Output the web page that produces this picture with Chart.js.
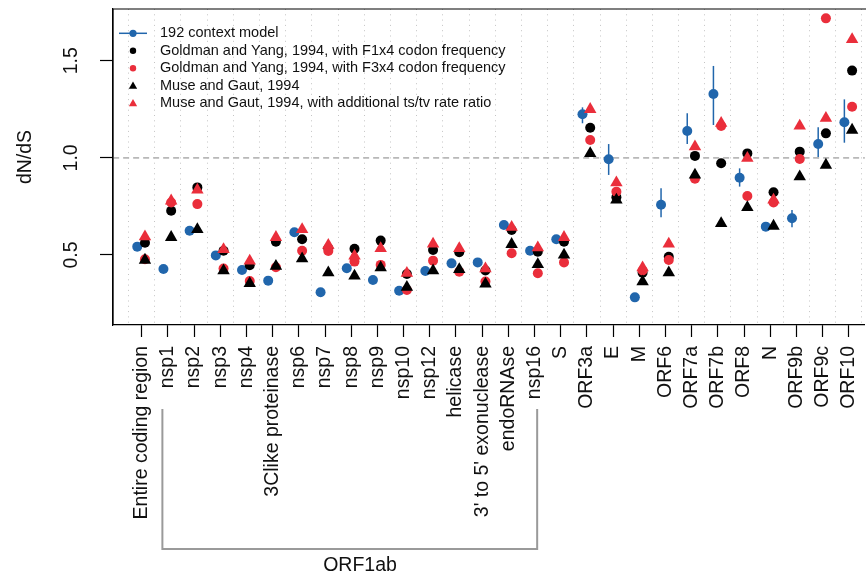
<!DOCTYPE html>
<html>
<head>
<meta charset="utf-8">
<script src="https://cdn.jsdelivr.net/npm/chart.js@4.4.0/dist/chart.umd.min.js"></script>
<style>
html, body { margin: 0; padding: 0; overflow: hidden; background: #fff; }
canvas { display: block; }
</style>
</head>
<body>
<canvas id="dnds" width="872" height="577"></canvas>
<script>
// categories (ORF1ab subunits are nsp1 .. nsp16)
const regions = ['Entire coding region', 'nsp1', 'nsp2', 'nsp3', 'nsp4', '3Clike proteinase', 'nsp6', 'nsp7', 'nsp8', 'nsp9',
    'nsp10', 'nsp12', 'helicase', "3' to 5' exonuclease", 'endoRNAse', 'nsp16', 'S', 'ORF3a', 'E', 'M',
    'ORF6', 'ORF7a', 'ORF7b', 'ORF8', 'N', 'ORF9b', 'ORF9c', 'ORF10']

const context192 = [0.543, 0.428, 0.625, 0.498, 0.423, 0.368, 0.617, 0.308, 0.432, 0.371,
    0.316, 0.418, 0.457, 0.462, 0.654, 0.522, 0.581, 1.224, 0.993, 0.282,
    0.759, 1.138, 1.329, 0.898, 0.646, 0.689, 1.071, 1.183]
const context192Low = [null, null, null, null, null, null, null, null, null, null,
    null, null, null, null, 0.64, null, null, 1.178, 0.912, null,
    0.694, 1.071, 1.169, 0.852, null, 0.643, 0.998, 1.078]
const context192High = [null, null, null, null, null, null, null, null, null, null,
    null, null, null, null, 0.672, null, null, 1.26, 1.071, null,
    0.843, 1.229, 1.473, 0.946, null, 0.732, 1.157, 1.301]
const gyF1x4 = [0.563, 0.728, 0.848, 0.522, 0.447, 0.568, 0.581, 0.535, 0.532, 0.574,
    0.402, 0.526, 0.514, 0.42, 0.629, 0.517, 0.568, 1.155, 0.797, 0.409,
    0.491, 1.01, 0.972, 1.023, 0.823, 1.032, 1.126, 1.449]
const gyF3x4 = [0.478, 0.77, 0.762, 0.43, 0.366, 0.437, 0.522, 0.521, 0.466, 0.449,
    0.32, 0.471, 0.414, 0.363, 0.509, 0.406, 0.462, 1.092, 0.826, 0.42,
    0.474, 0.893, 1.164, 0.804, 0.77, 0.994, 1.718, 1.263]
const museGaut = [0.474, 0.591, 0.632, 0.419, 0.354, 0.443, 0.481, 0.409, 0.392, 0.435,
    0.334, 0.419, 0.426, 0.351, 0.555, 0.452, 0.50, 1.023, 0.783, 0.363,
    0.409, 0.912, 0.663, 0.745, 0.649, 0.903, 0.963, 1.143]
const museGautTsTv = [0.594, 0.779, 0.835, 0.529, 0.469, 0.591, 0.632, 0.551, 0.495, 0.534,
    0.406, 0.557, 0.534, 0.430, 0.643, 0.538, 0.591, 1.25, 0.872, 0.435,
    0.557, 1.057, 1.178, 0.998, 0.783, 1.164, 1.204, 1.61]

const yTicks = [0.5, 1.0, 1.5]
const legendLabels = ['192 context model',
    'Goldman and Yang, 1994, with F1x4 codon frequency',
    'Goldman and Yang, 1994, with F3x4 codon frequency',
    'Muse and Gaut, 1994',
    'Muse and Gaut, 1994, with additional ts/tv rate ratio']
const groupLabel = 'ORF1ab'

const FONT = '"Liberation Sans", Arial, Helvetica, sans-serif'
const BLUE = '#2166ac'
const RED = '#ea2e3b'
const BLACK = '#000000'
const BLUE_SHIFT = -0.17, OTHER_SHIFT = 0.125
// pixel placement of the plot, as in the original figure
const FIRST_CAT_PX = 141.7, CAT_PX = 26.19
const Y_LOW_PX = 255, Y_HIGH_PX = 60.7

function points(values, shift){
    return values.map((v, i) => ({x: i + shift, y: v}))
}

function triangle(ctx, cx, cy, r){
    ctx.beginPath()
    ctx.moveTo(cx, cy - r)
    ctx.lineTo(cx + r * 0.866, cy + r / 2)
    ctx.lineTo(cx - r * 0.866, cy + r / 2)
    ctx.closePath()
    ctx.fill()
}

function dot(ctx, cx, cy, r){
    ctx.beginPath()
    ctx.arc(cx, cy, r, 0, Math.PI * 2)
    ctx.fill()
}

const extras = {
    id: 'extras',
    afterLayout(chart){
        // pin the value range to the final box so the spacing matches the figure
        const x = chart.scales.x, g = chart.scales.xGrid, y = chart.scales.y
        const xmin = -(FIRST_CAT_PX - x.left) / CAT_PX
        const xmax = xmin + (x.right - x.left) / CAT_PX
        ;[x, g].forEach(s => { s.min = xmin; s.max = xmax; s.configure() })
        const perUnit = (Y_LOW_PX - Y_HIGH_PX) / (yTicks[2] - yTicks[0])
        y.min = yTicks[0] - (y.bottom - Y_LOW_PX) / perUnit
        y.max = yTicks[2] + (Y_HIGH_PX - y.top) / perUnit
        y.configure()
    },
    beforeDatasetsDraw(chart){
        const ctx = chart.ctx, x = chart.scales.x, y = chart.scales.y
        ctx.save()
        ctx.strokeStyle = BLUE
        ctx.lineWidth = 1.5
        for(let i = 0; i < regions.length; i++){
            if(context192Low[i] == null) continue
            const px = x.getPixelForValue(i + BLUE_SHIFT)
            ctx.beginPath()
            ctx.moveTo(px, y.getPixelForValue(context192Low[i]))
            ctx.lineTo(px, y.getPixelForValue(context192High[i]))
            ctx.stroke()
        }
        ctx.restore()
    },
    afterDraw(chart){
        const ctx = chart.ctx, x = chart.scales.x, y = chart.scales.y
        const area = chart.chartArea
        ctx.save()
        // box: the right side is cut off in the original
        ctx.strokeStyle = BLACK
        ctx.lineWidth = 1.2
        ctx.beginPath()
        ctx.moveTo(area.left, area.bottom)
        ctx.lineTo(area.left, area.top)
        ctx.lineTo(area.right + 6, area.top)
        ctx.stroke()

        // y tick labels and title, rotated like base R
        ctx.fillStyle = '#111'
        ctx.font = '19.5px ' + FONT
        ctx.textAlign = 'center'
        ctx.textBaseline = 'middle'
        yTicks.forEach(t => {
            ctx.save()
            ctx.translate(72, y.getPixelForValue(t))
            ctx.rotate(-Math.PI / 2)
            ctx.fillText(t.toFixed(1), 0, 0)
            ctx.restore()
        })
        ctx.save()
        ctx.translate(26, 157)
        ctx.rotate(-Math.PI / 2)
        ctx.fillText('dN/dS', 0, 0)
        ctx.restore()

        // legend
        const lx = 133, ly = 33.3, step = 17.5
        ctx.font = '14.5px ' + FONT
        ctx.textAlign = 'left'
        ctx.fillStyle = BLUE
        ctx.strokeStyle = BLUE
        ctx.lineWidth = 1.5
        ctx.beginPath()
        ctx.moveTo(lx - 14, ly)
        ctx.lineTo(lx + 14, ly)
        ctx.stroke()
        dot(ctx, lx, ly, 3.6)
        ctx.fillStyle = BLACK
        dot(ctx, lx, ly + step, 3.2)
        ctx.fillStyle = RED
        dot(ctx, lx, ly + step * 2, 3.2)
        ctx.fillStyle = BLACK
        triangle(ctx, lx, ly + step * 3 + 0.5, 4.8)
        ctx.fillStyle = RED
        triangle(ctx, lx, ly + step * 4 + 0.5, 4.8)
        ctx.fillStyle = '#111'
        legendLabels.forEach((t, i) => ctx.fillText(t, 160, ly + step * i))

        // ORF1ab bracket
        const bx1 = x.getPixelForValue(0.79), bx2 = x.getPixelForValue(15.1)
        ctx.strokeStyle = '#9a9a9a'
        ctx.lineWidth = 2
        ctx.beginPath()
        ctx.moveTo(bx1, 409)
        ctx.lineTo(bx1, 549)
        ctx.lineTo(bx2, 549)
        ctx.lineTo(bx2, 409)
        ctx.stroke()
        ctx.fillStyle = '#111'
        ctx.font = '19.5px ' + FONT
        ctx.textAlign = 'center'
        ctx.fillText(groupLabel, 360, 566)
        ctx.restore()
    }
}

const chart = new Chart(document.getElementById('dnds').getContext('2d'), {
    type: 'scatter',
    data: {
        datasets: [
            {
                label: 'ref',
                data: [{x: -3, y: 1}, {x: 31, y: 1}],
                showLine: true,
                borderColor: '#b8b8b8',
                borderWidth: 1.8,
                borderDash: [6, 4],
                pointRadius: 0,
                order: 10
            },
            {
                label: legendLabels[0],
                data: points(context192, BLUE_SHIFT),
                backgroundColor: BLUE,
                pointStyle: 'circle',
                pointRadius: 5,
                borderWidth: 0,
                order: 5
            },
            {
                label: legendLabels[1],
                data: points(gyF1x4, OTHER_SHIFT),
                backgroundColor: BLACK,
                pointStyle: 'circle',
                pointRadius: 5,
                borderWidth: 0,
                order: 4
            },
            {
                label: legendLabels[2],
                data: points(gyF3x4, OTHER_SHIFT),
                backgroundColor: RED,
                pointStyle: 'circle',
                pointRadius: 5,
                borderWidth: 0,
                order: 3
            },
            {
                label: legendLabels[3],
                data: points(museGaut, OTHER_SHIFT),
                backgroundColor: BLACK,
                pointStyle: 'triangle',
                pointRadius: 7.2,
                borderWidth: 0,
                order: 2
            },
            {
                label: legendLabels[4],
                data: points(museGautTsTv, OTHER_SHIFT),
                backgroundColor: RED,
                pointStyle: 'triangle',
                pointRadius: 7.2,
                borderWidth: 0,
                order: 1
            }
        ]
    },
    options: {
        responsive: false,
        animation: false,
        layout: { padding: { top: 9, left: 0, right: 0, bottom: 0 } },
        plugins: {
            legend: { display: false },
            tooltip: { enabled: false }
        },
        scales: {
            x: {
                type: 'linear',
                position: 'bottom',
                min: -1.1,
                max: 27.8,
                afterBuildTicks: s => { s.ticks = regions.map((r, i) => ({value: i})) },
                afterFit: s => { s.height = 577 - 325; s.paddingLeft = 0; s.paddingRight = 0 },
                ticks: {
                    autoSkip: false,
                    minRotation: 90,
                    maxRotation: 90,
                    padding: 9,
                    color: '#111',
                    font: { family: FONT, size: 19.5 },
                    callback: v => regions[Math.round(v)]
                },
                grid: { drawOnChartArea: false, drawTicks: true, tickLength: 12, tickColor: BLACK, tickWidth: 1.2 },
                border: { display: true, color: BLACK, width: 1.2 }
            },
            xGrid: {
                type: 'linear',
                position: 'top',
                min: -1.1,
                max: 27.8,
                afterBuildTicks: s => { s.ticks = regions.map((r, i) => ({value: i - 0.5})).concat([{value: regions.length - 0.5}]) },
                afterFit: s => { s.height = 0; s.paddingLeft = 0; s.paddingRight = 0 },
                ticks: { display: false, autoSkip: false },
                grid: { drawOnChartArea: true, drawTicks: false, color: '#c4c4c4', lineWidth: 1 },
                border: { display: false, dash: [1, 4.3] }
            },
            y: {
                min: 0.14,
                max: 1.766,
                afterBuildTicks: s => { s.ticks = yTicks.map(v => ({value: v})) },
                afterFit: s => { s.width = 113 },
                ticks: { display: false },
                grid: { drawOnChartArea: false, drawTicks: true, tickLength: 13, tickColor: BLACK, tickWidth: 1.2 },
                border: { display: true, color: BLACK, width: 1.2 }
            }
        }
    },
    plugins: [extras]
})
</script>
</body>
</html>
